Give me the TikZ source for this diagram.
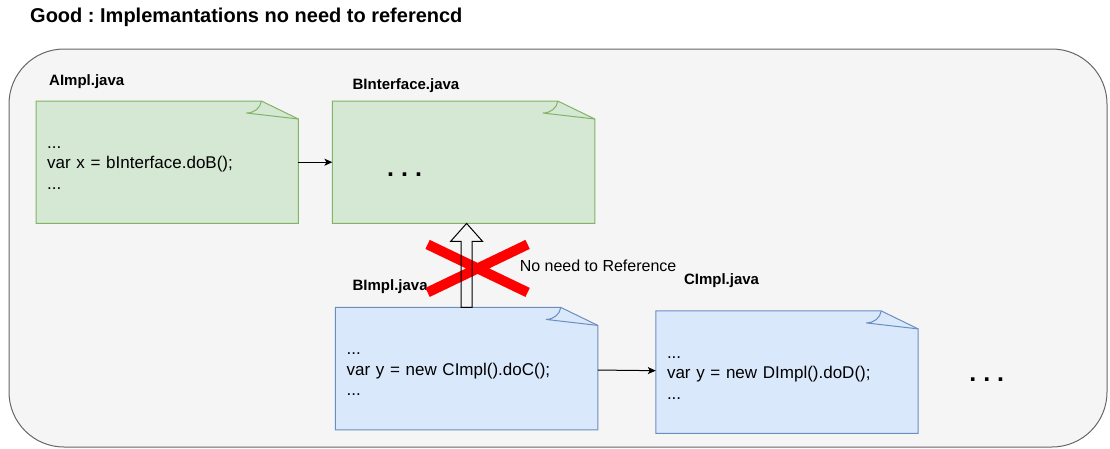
\documentclass[tikz,border=0pt]{standalone}
\usepackage{fontspec}
\setmainfont{Liberation Sans}
\usetikzlibrary{arrows.meta,positioning,calc,backgrounds}
\definecolor{implfill}{HTML}{D5E8D4}
\definecolor{impldraw}{HTML}{82B366}
\definecolor{callfill}{HTML}{DAE8FC}
\definecolor{calldraw}{HTML}{6C8EBF}
\definecolor{framefill}{HTML}{F5F5F5}
\definecolor{framedraw}{HTML}{666666}
\definecolor{crossred}{HTML}{FF0000}
\frenchspacing

% note outline with a folded corner, drawn behind the text node
\newcommand{\notefold}[3]{%
  \filldraw[fill=#2, draw=#3, line width=1pt, line join=miter]
    (#1.north west) -- ([xshift=-37pt]#1.north east)
    -- ([yshift=-18pt]#1.north east) -- (#1.south east)
    -- (#1.south west) -- cycle;
  \draw[draw=#3, line width=1pt]
    ([xshift=-37pt]#1.north east) .. controls +(-1pt,-7pt) and +(8pt,0pt)
    .. ([xshift=-52pt,yshift=-12pt]#1.north east)
    -- ([yshift=-18pt]#1.north east);}

\begin{document}
\begin{tikzpicture}[x=1pt, y=-1pt,
  note/.style={minimum width=262pt, minimum height=122pt, inner xsep=11pt,
    inner ysep=0pt, text width=240pt, align=left,
    font=\fontsize{17}{20.5}\selectfont,
    execute at begin node={\rule{0pt}{13pt}}},
  fname/.style={font=\fontsize{15}{18}\selectfont\bfseries, inner sep=0pt},
  dots/.style={font=\fontsize{25}{30}\selectfont\bfseries, inner sep=0pt},
  arr/.style={-{Stealth[length=8pt,width=7pt,inset=2pt]}, line width=1pt},
  crossbar/.style={draw=crossred, line width=10pt},
  node distance=34pt]
\useasboundingbox (0,0) rectangle (1110,448);
\node[anchor=west, inner sep=0pt, font=\fontsize{20}{24}\selectfont\bfseries]
  (title) at (30,17) {Good : Implemantations no need to referencd};
\node[note, anchor=north west] (aimpl) at (36,101)
  {...\\var x = bInterface.doB();\\...};
\node[note, right=of aimpl] (binterface) {};
\node[note, below=84pt of binterface, xshift=3pt] (bimpl)
  {...\\var y = new CImpl().doC();\\...};
\node[note, right=58pt of bimpl, yshift=-3.5pt] (cimpl)
  {...\\var y = new DImpl().doD();\\...};
\node[fname, above right=12pt and 13pt of aimpl.north west] (aname) {AImpl.java};
\node[fname, above right=8pt and 20pt of binterface.north west] (bname) {BInterface.java};
\node[fname, above right=14pt and 17pt of bimpl.north west] (bimplname) {BImpl.java};
\node[fname, above right=23pt and 28pt of cimpl.north west] (cname) {CImpl.java};
\node[dots] (bdots) at ([xshift=-59pt,yshift=-12.5pt]binterface.center) {. . .};
\node[dots, right=51pt of cimpl, yshift=-7.5pt] (edots) {. . .};
\begin{scope}[on background layer]
  \filldraw[fill=framefill, draw=framedraw, line width=1pt, rounded corners=55pt]
    (9,49) rectangle (1107,447);
  \notefold{aimpl}{implfill}{impldraw}
  \notefold{binterface}{implfill}{impldraw}
  \notefold{bimpl}{callfill}{calldraw}
  \notefold{cimpl}{callfill}{calldraw}
\end{scope}
\draw[arr] (aimpl) -- (binterface);
\draw[arr] (bimpl) -- (cimpl);
% crossed out reference
\coordinate (tip) at (bimpl.north |- binterface.south);
\coordinate (cross) at ($(bimpl.north)!0.5!(binterface.south)+(12.5,3)$);
\draw[crossbar] ($(cross)+(-50,-24)$) -- ($(cross)+(50,24)$)
  ($(cross)+(-50,24)$) -- ($(cross)+(50,-24)$);
\draw[line width=1pt, line join=miter]
  ($(bimpl.north)+(-5.5,0)$) -- ($(tip)+(-5.5,18)$) -- ($(tip)+(-16,18)$)
  -- (tip) -- ($(tip)+(16,18)$) -- ($(tip)+(5.5,18)$)
  -- ($(bimpl.north)+(5.5,0)$) -- cycle;
\node[anchor=west, inner sep=0pt, font=\fontsize{16}{19}\selectfont]
  (noref) at ($(cross)+(42,-3)$) {No need to Reference};
\end{tikzpicture}
\end{document}
